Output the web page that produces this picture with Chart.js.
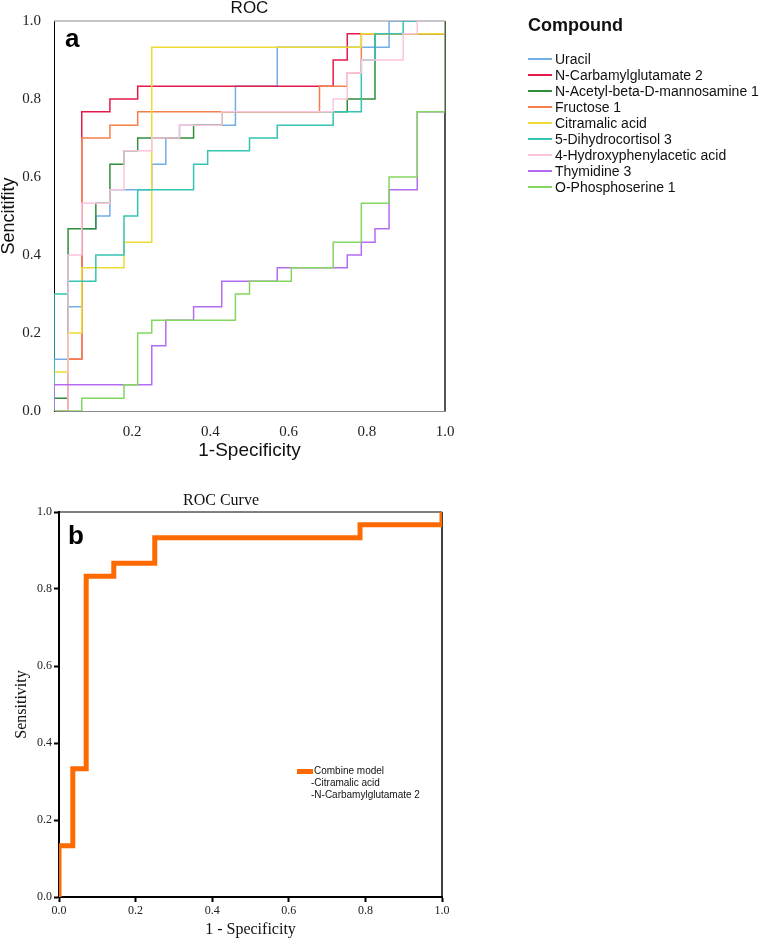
<!DOCTYPE html>
<html>
<head>
<meta charset="utf-8">
<title>ROC</title>
<script src="https://cdn.jsdelivr.net/npm/chart.js@4.4.1/dist/chart.umd.min.js"></script>
<style>
body{margin:0;background:#fff;}
#page{position:relative;width:762px;height:939px;overflow:hidden;font-family:"Liberation Sans",Arial,sans-serif;color:#111;}
canvas{position:absolute;left:0;}
.tag{position:absolute;font:bold 26px "Liberation Sans",Arial,sans-serif;line-height:26px;color:#000;}
#legTitle{position:absolute;left:528px;top:16px;font:900 18px "Liberation Sans",Arial,sans-serif;line-height:18px;}
.row{position:absolute;left:528px;height:16px;width:234px;font-size:14px;line-height:16px;white-space:nowrap;}
.row i{position:absolute;left:0;top:7px;width:24px;height:2px;}
.row span{position:absolute;left:27px;top:0;}
#legB{position:absolute;left:311px;top:765px;font:10px "Liberation Sans Narrow","Liberation Sans",Arial,sans-serif;line-height:12px;color:#111;white-space:nowrap;}
#swB{position:absolute;left:297px;top:769px;width:16px;height:5px;background:#ff6a00;}
</style>
</head>
<body>
<div id="page">
  <canvas id="cA" width="762" height="470" style="top:0"></canvas>
  <canvas id="cB" width="762" height="469" style="top:470px"></canvas>
  <div class="tag" style="left:65px;top:25px">a</div>
  <div class="tag" style="left:68px;top:522px">b</div>
  <div id="legTitle">Compound</div>
  <div id="legA"></div>
  <div id="swB"></div>
  <div id="legB"><div style="padding-left:3px">Combine model</div><div>-Citramalic acid</div><div>-N-Carbamylglutamate 2</div></div>
</div>
<script>
// panel a: corners of each ROC step curve (1-specificity, sensitivity)
const compounds = ['Uracil', 'N-Carbamylglutamate 2', 'N-Acetyl-beta-D-mannosamine 1', 'Fructose 1',
  'Citramalic acid', '5-Dihydrocortisol 3', '4-Hydroxyphenylacetic acid', 'Thymidine 3', 'O-Phosphoserine 1'];
const colorsA = ['#72aee6', '#e41a4b', '#2f8f3a', '#f57f4b', '#eedb32', '#35c3b2', '#fbc4dc', '#b46cf2', '#83d65e'];

const fprUracil = [0, 0, .036, .036, .071, .071, .107, .107, .143, .143, .25, .25, .286, .286, .321, .321, .464, .464, .571, .571, .857, .857, 1];
const tprUracil = [0, .133, .133, .267, .267, .467, .467, .5, .5, .567, .567, .633, .633, .7, .7, .733, .733, .833, .833, .933, .933, 1, 1];

const fprCarbamyl = [0, .036, .036, .071, .071, .143, .143, .214, .214, .714, .714, .75, .75, 1, 1];
const tprCarbamyl = [0, 0, .133, .133, .767, .767, .8, .8, .833, .833, .9, .9, .967, .967, 1];

const fprAcetyl = [0, 0, .036, .036, .107, .107, .143, .143, .179, .179, .214, .214, .357, .357, .429, .429, .75, .75, .821, .821, 1, 1];
const tprAcetyl = [0, .033, .033, .467, .467, .533, .533, .633, .633, .667, .667, .7, .7, .733, .733, .767, .767, .8, .8, .967, .967, 1];

const fprFructose = [0, .036, .036, .071, .071, .143, .143, .214, .214, .679, .679, .75, .75, .786, .786, 1, 1];
const tprFructose = [0, 0, .133, .133, .7, .7, .733, .733, .767, .767, .833, .833, .867, .867, .967, .967, 1];

const fprCitramalic = [0, 0, .036, .036, .071, .071, .179, .179, .25, .25, .786, .786, 1, 1];
const tprCitramalic = [0, .1, .1, .2, .2, .367, .367, .433, .433, .933, .933, .967, .967, 1];

const fprCortisol = [0, 0, .036, .036, .107, .107, .179, .179, .214, .214, .357, .357, .393, .393, .5, .5, .571, .571, .714, .714, .786, .786, .821, .821, .893, .893, 1];
const tprCortisol = [0, .3, .3, .333, .333, .4, .4, .5, .5, .567, .567, .633, .633, .667, .667, .7, .7, .733, .733, .767, .767, .9, .9, .967, .967, 1, 1];

const fprHydroxy = [0, .036, .036, .071, .071, .143, .143, .179, .179, .25, .25, .321, .321, .429, .429, .714, .714, .75, .75, .786, .786, .893, .893, .929, .929, 1];
const tprHydroxy = [0, 0, .4, .4, .533, .533, .567, .567, .667, .667, .7, .7, .733, .733, .767, .767, .8, .8, .867, .867, .9, .9, .967, .967, 1, 1];

const fprThymidine = [0, 0, .25, .25, .286, .286, .357, .357, .429, .429, .571, .571, .75, .75, .786, .786, .821, .821, .857, .857, .929, .929, 1, 1];
const tprThymidine = [0, .067, .067, .167, .167, .233, .233, .267, .267, .333, .333, .367, .367, .4, .4, .433, .433, .467, .467, .567, .567, .767, .767, 1];

const fprPhospho = [0, .071, .071, .179, .179, .214, .214, .25, .25, .464, .464, .5, .5, .607, .607, .714, .714, .786, .786, .857, .857, .929, .929, 1, 1];
const tprPhospho = [0, 0, .033, .033, .067, .067, .2, .2, .233, .233, .3, .3, .333, .333, .367, .367, .433, .433, .533, .533, .6, .6, .767, .767, 1];

const rocA = [[fprUracil, tprUracil], [fprCarbamyl, tprCarbamyl], [fprAcetyl, tprAcetyl], [fprFructose, tprFructose],
  [fprCitramalic, tprCitramalic], [fprCortisol, tprCortisol], [fprHydroxy, tprHydroxy], [fprThymidine, tprThymidine], [fprPhospho, tprPhospho]];

// panel b: combined model
const fprModel = [0, 0, .036, .036, .071, .071, .143, .143, .25, .25, .786, .786, 1, 1];
const tprModel = [0, .133, .133, .333, .333, .833, .833, .867, .867, .933, .933, .967, .967, 1];

function pts(xs, ys){
    return xs.map((x, i) => ({x: x, y: ys[i]}));
}

//rahmen oben + rechts
const framePlugin = {
    id: 'frame',
    beforeDatasetsDraw(chart, args, o){
        const {ctx, chartArea: a} = chart;
        ctx.save();
        ctx.strokeStyle = o.topColor;
        ctx.lineWidth = o.topWidth;
        ctx.beginPath(); ctx.moveTo(a.left, a.top); ctx.lineTo(a.right, a.top); ctx.stroke();
        ctx.strokeStyle = o.rightColor;
        ctx.lineWidth = o.rightWidth;
        ctx.beginPath(); ctx.moveTo(a.right, a.top); ctx.lineTo(a.right, a.bottom); ctx.stroke();
        ctx.restore();
    }
};

const sans = "'Liberation Sans', Arial, sans-serif";
const serif = "'Liberation Serif', 'Times New Roman', serif";

// legend a
const legA = document.getElementById('legA');
compounds.forEach((name, k) => {
    let row = document.createElement('div');
    row.className = 'row';
    row.style.top = Math.round(50.5 + k * 16.1) + 'px';
    let sw = document.createElement('i');
    sw.style.background = colorsA[k];
    let t = document.createElement('span');
    t.innerText = name;
    row.appendChild(sw);
    row.appendChild(t);
    legA.appendChild(row);
});

new Chart(document.getElementById('cA'), {
    type: 'scatter',
    data: {
        datasets: compounds.map((name, k) => ({
            label: name,
            data: pts(rocA[k][0], rocA[k][1]),
            showLine: true,
            borderColor: colorsA[k],
            borderWidth: 1.5,
            pointRadius: 0,
            fill: false,
            order: compounds.length - k
        }))
    },
    options: {
        responsive: false,
        animation: false,
        events: [],
        layout: {padding: {left: 0, right: 317, top: 0, bottom: 0}},
        plugins: {
            legend: {display: false},
            tooltip: {enabled: false},
            title: {
                display: true, text: 'ROC', fullSize: false, color: '#111',
                font: {family: sans, size: 17, weight: 'normal', lineHeight: 1},
                padding: {top: 0, bottom: 4}
            },
            frame: {topColor: '#8a8a8a', topWidth: 1, rightColor: '#555', rightWidth: 2}
        },
        scales: {
            x: {
                type: 'linear', min: 0, max: 1,
                afterFit: (s) => { s.height = 59; },
                grid: {display: false},
                border: {color: '#8a8a8a', width: 1},
                ticks: {stepSize: 0.2, padding: 4, color: '#222', font: {family: serif, size: 15},
                    callback: (v) => v === 0 ? '' : v.toFixed(1)},
                title: {display: true, text: '1-Specificity', color: '#111',
                    font: {family: sans, size: 19, lineHeight: 1}, padding: {top: 0, bottom: 9.5}}
            },
            y: {
                type: 'linear', min: 0, max: 1,
                afterFit: (s) => { s.width = 54; },
                grid: {display: false},
                border: {color: '#000', width: 1},
                ticks: {stepSize: 0.2, padding: 5, color: '#222', font: {family: serif, size: 15},
                    callback: (v) => v.toFixed(1)},
                title: {display: true, text: 'Sencitifity', color: '#111',
                    font: {family: sans, size: 18, lineHeight: 1}, padding: {top: 0, bottom: 0}}
            }
        }
    },
    plugins: [framePlugin]
});

new Chart(document.getElementById('cB'), {
    type: 'scatter',
    data: {
        datasets: [{
            label: 'Combine model',
            data: pts(fprModel, tprModel),
            showLine: true,
            borderColor: '#ff6a00',
            borderWidth: 5,
            borderJoinStyle: 'miter',
            pointRadius: 0,
            fill: false
        }]
    },
    options: {
        responsive: false,
        animation: false,
        events: [],
        layout: {padding: {left: 0, right: 320, top: 0, bottom: 0}},
        plugins: {
            legend: {display: false},
            tooltip: {enabled: false},
            title: {
                display: true, text: 'ROC Curve', color: '#111',
                font: {family: serif, size: 16, weight: 'normal', lineHeight: 1},
                padding: {top: 23, bottom: 3}
            },
            frame: {topColor: '#000', topWidth: 1, rightColor: '#000', rightWidth: 1.5}
        },
        scales: {
            x: {
                type: 'linear', min: 0, max: 1,
                afterFit: (s) => { s.height = 42; },
                grid: {display: true, drawOnChartArea: false, drawTicks: true, tickLength: 5, tickWidth: 2, tickColor: '#000'},
                border: {color: '#000', width: 2},
                ticks: {stepSize: 0.2, padding: 2, color: '#222', font: {family: serif, size: 12},
                    callback: (v) => v.toFixed(1)},
                title: {display: true, text: '1 - Specificity', color: '#111',
                    font: {family: serif, size: 16, lineHeight: 1}, padding: {top: 0, bottom: 1}}
            },
            y: {
                type: 'linear', min: 0, max: 1,
                afterFit: (s) => { s.width = 59; },
                grid: {display: true, drawOnChartArea: false, drawTicks: true, tickLength: 5, tickWidth: 2, tickColor: '#000'},
                border: {color: '#000', width: 2},
                ticks: {stepSize: 0.2, padding: 2, color: '#222', font: {family: serif, size: 12},
                    callback: (v) => v.toFixed(1)},
                title: {display: true, text: 'Sensitivity', color: '#111',
                    font: {family: serif, size: 16, lineHeight: 1}, padding: {top: 14, bottom: 0}}
            }
        }
    },
    plugins: [framePlugin]
});
</script>
</body>
</html>
